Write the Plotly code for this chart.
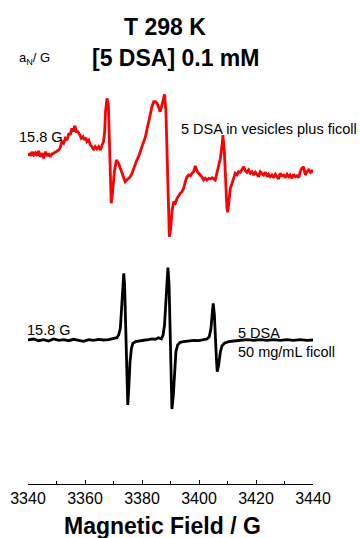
import plotly.graph_objects as go

# ---- EPR spectra of 5-DSA (T = 298 K, [5 DSA] = 0.1 mM) ----
# Magnetic field in gauss, derivative intensity in arbitrary units.

field_vesicles = [
    3339.9, 3340.6, 3341.0, 3341.5, 3342.0, 3342.6, 3343.2, 3343.7, 3344.3, 3344.9,
    3345.5, 3346.1, 3346.7, 3347.2, 3347.8, 3348.4, 3349.0, 3349.9, 3350.8, 3351.3,
    3351.9, 3352.5, 3353.1, 3353.7, 3354.3, 3354.8, 3355.4, 3356.0, 3356.4, 3357.0,
    3357.5, 3358.1, 3358.7, 3359.3, 3359.8, 3360.3, 3360.7, 3361.3, 3361.9, 3362.5,
    3363.0, 3363.6, 3364.2, 3364.8, 3365.4, 3366.0, 3366.5, 3366.9, 3367.2, 3367.7,
    3368.2, 3368.5, 3368.9, 3369.2, 3369.7, 3370.3, 3371.0, 3371.8, 3372.4, 3373.0,
    3373.6, 3374.1, 3374.7, 3375.3, 3375.9, 3376.5, 3377.1, 3377.7, 3378.2, 3378.8,
    3379.4, 3380.0, 3380.6, 3381.2, 3381.7, 3382.3, 3382.9, 3383.5, 3384.1, 3384.7,
    3385.3, 3385.8, 3386.4, 3387.0, 3387.6, 3387.9, 3388.4, 3388.8, 3389.1, 3389.6,
    3390.1, 3390.5, 3391.1, 3391.7, 3392.3, 3392.9, 3393.4, 3394.0, 3394.6, 3395.2,
    3395.8, 3396.4, 3397.0, 3397.5, 3398.1, 3398.7, 3399.3, 3399.9, 3400.5, 3401.0,
    3401.6, 3402.2, 3402.8, 3403.4, 3404.0, 3404.6, 3405.7, 3406.3, 3406.9, 3407.5,
    3408.1, 3408.4, 3408.9, 3409.3, 3409.8, 3410.1, 3410.5, 3411.0, 3411.6, 3412.2,
    3412.7, 3413.3, 3413.9, 3414.5, 3415.1, 3415.7, 3416.3, 3416.8, 3417.4, 3418.0,
    3418.6, 3419.2, 3419.8, 3420.3, 3420.9, 3421.5, 3422.1, 3422.7, 3423.3, 3423.9,
    3424.4, 3425.0, 3425.6, 3426.2, 3426.8, 3427.4, 3427.9, 3428.5, 3429.1, 3429.7,
    3430.3, 3430.9, 3431.5, 3432.0, 3432.6, 3433.2, 3433.8, 3434.4, 3435.0, 3435.5,
    3436.1, 3436.7, 3437.3, 3437.9, 3438.5, 3439.1, 3439.6, 3440.0,
]
signal_vesicles = [
    5.0, 6.0, 4.3, 8.3, 5.0, 7.3, 4.3, 9.0, 3.3, 6.7,
    1.7, 8.3, 4.0, 6.7, 3.3, 6.0, 6.7, 8.3, 10.0, 12.3,
    18.3, 16.7, 21.7, 20.0, 26.7, 25.0, 31.7, 28.3, 34.3, 28.3,
    28.3, 25.7, 21.7, 23.3, 20.0, 22.3, 18.3, 20.0, 15.0, 13.3,
    10.0, 13.3, 11.0, 13.3, 10.0, 15.0, 18.3, 28.3, 48.3, 61.7,
    55.0, 25.0, -18.3, -43.3, -31.7, -11.7, 0.0, -3.3, -8.3, -13.3,
    -18.3, -21.7, -20.0, -18.3, -16.7, -13.3, -8.3, -5.0, 0.0, 3.3,
    8.3, 13.3, 16.7, 23.3, 30.0, 38.3, 46.7, 53.3, 58.3, 58.3,
    56.7, 51.7, 48.3, 55.0, 61.7, 65.7, 48.3, 8.3, -35.0, -76.7,
    -68.3, -51.7, -41.7, -43.3, -38.3, -35.0, -33.3, -31.7, -28.3, -21.7,
    -16.7, -15.0, -15.7, -13.3, -11.7, -6.0, -11.0, -13.3, -15.0, -16.7,
    -20.0, -18.3, -20.0, -18.3, -19.0, -17.7, -20.0, -11.7, -6.7, 1.7,
    15.0, 25.0, 8.3, -21.7, -48.3, -52.3, -41.7, -28.3, -23.3, -18.3,
    -13.3, -15.0, -11.7, -12.3, -10.0, -6.7, -11.0, -12.3, -10.0, -13.3,
    -11.7, -15.0, -12.3, -14.3, -16.7, -11.7, -13.3, -15.0, -12.3, -16.7,
    -14.3, -16.7, -15.0, -17.7, -14.3, -16.7, -19.0, -13.3, -15.7, -15.0,
    -17.7, -14.3, -16.7, -15.0, -18.3, -14.3, -16.7, -15.7, -17.7, -11.7,
    -8.3, -6.7, -15.0, -11.7, -10.0, -12.3, -11.0, -12.3,
]

field_ficoll = [
    3339.9, 3342.0, 3343.7, 3345.5, 3347.2, 3349.0, 3350.8, 3352.5, 3354.3, 3356.0,
    3357.8, 3359.5, 3361.3, 3363.0, 3364.8, 3366.5, 3368.3, 3369.5, 3370.6, 3371.2,
    3371.8, 3372.4, 3372.7, 3373.2, 3373.6, 3373.9, 3374.3, 3374.6, 3375.0, 3375.3,
    3375.8, 3376.3, 3376.8, 3377.7, 3378.8, 3380.0, 3381.2, 3382.3, 3383.5, 3384.7,
    3385.8, 3386.8, 3387.4, 3387.9, 3388.4, 3388.8, 3389.1, 3389.5, 3389.8, 3390.2,
    3390.5, 3391.0, 3391.5, 3391.9, 3392.5, 3393.4, 3394.6, 3396.4, 3398.1, 3399.9,
    3401.6, 3402.8, 3403.6, 3404.2, 3404.7, 3405.0, 3405.4, 3405.7, 3406.1, 3406.4,
    3406.9, 3407.5, 3408.1, 3408.9, 3410.4, 3412.2, 3414.5, 3416.8, 3419.2, 3421.5,
    3423.9, 3426.2, 3428.5, 3430.9, 3433.2, 3435.5, 3437.9, 3440.0,
]
signal_ficoll = [
    0.0, 1.0, -0.7, 0.3, -1.0, 1.0, -0.3, 0.3, -0.7, 0.7,
    -0.3, -1.3, 0.3, -0.3, 0.7, 0.0, 0.3, 1.0, 2.3, 2.3,
    5.0, 11.7, 25.0, 48.3, 66.7, 55.0, 8.3, -35.0, -65.0, -51.7,
    -21.7, -8.3, -3.3, -1.7, -1.0, -0.3, 0.0, 0.3, 1.0, 0.7,
    2.3, 1.0, 5.0, 15.0, 41.7, 61.7, 72.3, 55.0, 8.3, -41.7,
    -69.0, -55.0, -25.0, -11.7, -5.0, -2.3, -1.7, -1.0, -0.3, -0.7,
    0.3, 1.0, 3.3, 11.7, 28.3, 36.7, 25.0, 1.7, -18.3, -31.7,
    -25.0, -11.7, -5.7, -3.3, -1.7, -1.0, -0.3, 0.3, -0.3, 0.3,
    -0.3, 0.3, -0.3, 0.3, -0.3, 0.3, -0.3, 0.0,
]

# vertical stacking offsets of the two spectra
offset_vesicles = 324
offset_ficoll = 144

x_ticks = [3340, 3360, 3380, 3400, 3420, 3440]

FONT = "Liberation Sans, Arial, Helvetica, sans-serif"

fig = go.Figure()
fig.add_trace(go.Scatter(
    x=field_vesicles,
    y=[v + offset_vesicles for v in signal_vesicles],
    mode="lines", line=dict(color="#ff0000", width=2.8),
    showlegend=False, hoverinfo="skip",
))
fig.add_trace(go.Scatter(
    x=field_ficoll,
    y=[v + offset_ficoll for v in signal_ficoll],
    mode="lines", line=dict(color="#000000", width=2.8),
    showlegend=False, hoverinfo="skip",
))


def label(text, x, y, size, bold=False, anchor="left"):
    fig.add_annotation(
        text=f"<b>{text}</b>" if bold else text,
        x=x, y=y, xref="paper", yref="paper",
        xanchor=anchor, yanchor="middle", showarrow=False,
        font=dict(family=FONT, size=size, color="#000000"),
    )


def px_x(p):
    return (p - 28) / 285


def px_y(p):
    return (484 - p) / 484


label("T 298 K", px_x(165), px_y(27), 23, bold=True, anchor="center")
label("[5 DSA] 0.1 mM", px_x(175), px_y(58), 23, bold=True, anchor="center")
label("a<sub>N</sub>/ G", px_x(17), px_y(59), 13)
label("15.8 G", px_x(16.5), px_y(137), 14.5)
label("5 DSA in vesicles plus ficoll", px_x(178.5), px_y(129), 14.5)
label("15.8 G", px_x(24.5), px_y(329.5), 14.5)
label("5 DSA", px_x(236), px_y(332.5), 14.5)
label("50 mg/mL ficoll", px_x(236), px_y(352), 14.5)
label("Magnetic Field / G", px_x(162), px_y(526), 23, bold=True, anchor="center")

fig.update_layout(
    width=360, height=538,
    margin=dict(l=28, r=47, t=0, b=54),
    paper_bgcolor="white", plot_bgcolor="white",
    font=dict(family=FONT, color="#000000"),
    xaxis=dict(
        range=[3340, 3440],
        tickmode="array", tickvals=x_ticks,
        ticktext=[str(t) for t in x_ticks],
        ticks="inside", ticklen=4, tickwidth=1, tickcolor="#000000",
        minor=dict(ticks="inside", ticklen=3, tickwidth=1, tickcolor="#000000",
                   dtick=10, tick0=3340),
        showline=True, linecolor="#000000", linewidth=1,
        showgrid=False, zeroline=False,
        tickfont=dict(family=FONT, size=16, color="#000000"),
        fixedrange=True,
    ),
    yaxis=dict(
        range=[0, 484], visible=False, showgrid=False, zeroline=False,
        fixedrange=True,
    ),
)

fig.write_html("out.html", config={"displayModeBar": False})
